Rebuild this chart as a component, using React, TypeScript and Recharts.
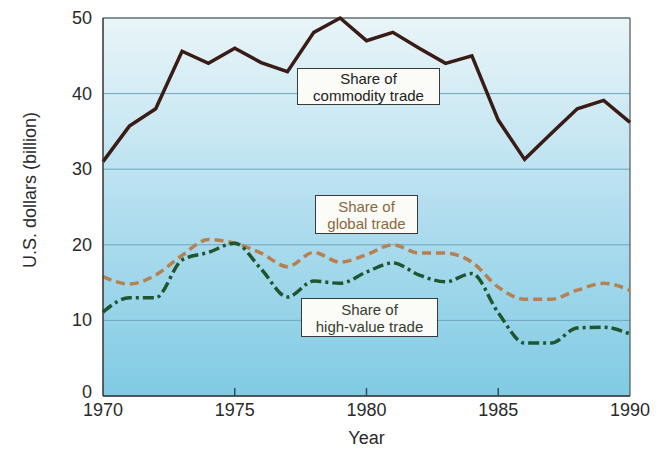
import React from "react";
import {
  LineChart,
  Line,
  XAxis,
  YAxis,
  CartesianGrid,
  ReferenceLine,
  Label,
} from "recharts";

const years = [
  1970, 1971, 1972, 1973, 1974, 1975, 1976, 1977, 1978, 1979, 1980,
  1981, 1982, 1983, 1984, 1985, 1986, 1987, 1988, 1989, 1990,
];
const commodity = [
  31, 35.7, 38, 45.6, 44, 46, 44.1, 42.9, 48.1, 50, 47,
  48.1, 46, 44, 45, 36.5, 31.3, 34.7, 38, 39.1, 36.2,
];
const global = [
  15.8, 14.8, 16, 18.6, 20.7, 20.2, 18.9, 17.1, 19, 17.7, 18.7,
  20, 18.9, 18.9, 17.7, 14.4, 12.8, 12.8, 14, 14.9, 14,
];
const highValue = [
  11.1, 13, 13, 18, 19, 20.2, 16.8, 13.1, 15.2, 14.9, 16.4,
  17.6, 16, 15.1, 16.2, 11, 7, 7, 9, 9.1, 8.2,
];
const xTicks = [1970, 1975, 1980, 1985, 1990];
const yTicks = [0, 10, 20, 30, 40, 50];

const data = years.map((year, i) => ({
  year,
  commodity: commodity[i],
  global: global[i],
  highValue: highValue[i],
}));

const font = "'Liberation Sans', Arial, sans-serif";

const XTick = (props: any) => {
  const { x, y, payload } = props;
  const edge = payload.value === 1970 || payload.value === 1990;
  return (
    <g>
      {!edge && <line x1={x} y1={y} x2={x} y2={y - 8} stroke="#2f4f5f" strokeWidth={1.5} />}
      <text x={x} y={y + 20} textAnchor="middle" fontSize={18} fill="#2a2a2a" fontFamily={font}>
        {payload.value}
      </text>
    </g>
  );
};

const YTick = (props: any) => {
  const { x, y, payload } = props;
  const dy = payload.value === 0 ? 2 : 6;
  return (
    <text x={x} y={y + dy} textAnchor="end" fontSize={18} fill="#2a2a2a" fontFamily={font}>
      {payload.value}
    </text>
  );
};

const YLabel = (props: any) => {
  const { viewBox } = props;
  const cx = 30;
  const cy = viewBox.y + viewBox.height / 2 - 17;
  return (
    <text
      x={cx}
      y={cy}
      transform={`rotate(-90, ${cx}, ${cy})`}
      textAnchor="middle"
      dominantBaseline="central"
      fontSize={18}
      fill="#2a2a2a"
      fontFamily={font}
    >
      U.S. dollars (billion)
    </text>
  );
};

const boxStyle = (left: number, top: number, w: number, h: number, color: string): React.CSSProperties => ({
  position: "absolute",
  left,
  top,
  width: w,
  height: h,
  boxSizing: "border-box",
  background: "#fbfbf7",
  border: "1.5px solid #3a3a3a",
  color,
  fontFamily: font,
  fontSize: 15,
  lineHeight: "17px",
  textAlign: "center",
  display: "flex",
  flexDirection: "column",
  justifyContent: "center",
});

const App: React.FC = () => {
  return (
    <div style={{ position: "absolute", left: 0, top: 0, width: 665, height: 450, background: "#fff" }}>
      <LineChart
        width={665}
        height={450}
        data={data}
        margin={{ top: 18, right: 35, left: 0, bottom: 4 }}
      >
        <defs>
          <linearGradient id="bg" x1="0" y1="0" x2="0" y2="1">
            <stop offset="0%" stopColor="#e9f5f8" />
            <stop offset="50%" stopColor="#b3deef" />
            <stop offset="100%" stopColor="#80cbe3" />
          </linearGradient>
        </defs>
        <CartesianGrid
          vertical={false}
          fill="url(#bg)"
          stroke="#6ea6bd"
          strokeWidth={1}
        />
        <XAxis
          dataKey="year"
          type="number"
          domain={[1970, 1990]}
          ticks={xTicks}
          height={50}
          tickLine={false}
          tickSize={0}
          tickMargin={0}
          axisLine={{ stroke: "#333", strokeWidth: 1.5 }}
          tick={<XTick />}
          interval={0}
        >
          <Label
            value="Year"
            position="insideBottom"
            offset={2}
            style={{ fontSize: 18, fill: "#2a2a2a", fontFamily: font }}
          />
        </XAxis>
        <YAxis
          domain={[0, 50]}
          ticks={yTicks}
          width={103}
          tickLine={false}
          tickSize={0}
          tickMargin={11}
          axisLine={{ stroke: "#333", strokeWidth: 1.5 }}
          tick={<YTick />}
          interval={0}
        >
          <Label content={<YLabel />} />
        </YAxis>
        <ReferenceLine y={50} stroke="#555" strokeWidth={1.2} />
        <ReferenceLine x={1990} stroke="#555" strokeWidth={1.2} />
        <Line
          dataKey="global"
          stroke="#b9804f"
          strokeWidth={3.5}
          strokeDasharray="9 5"
          dot={false}
          type="monotone"
          isAnimationActive={false}
        />
        <Line
          dataKey="highValue"
          stroke="#1f5530"
          strokeWidth={3.5}
          strokeDasharray="11 4 3 4"
          dot={false}
          type="monotone"
          isAnimationActive={false}
        />
        <Line
          dataKey="commodity"
          stroke="#3a1c16"
          strokeWidth={3.5}
          dot={false}
          type="linear"
          isAnimationActive={false}
        />
      </LineChart>
      <div style={boxStyle(297, 68, 143, 37, "#222")}>
        <span>Share of</span>
        <span>commodity trade</span>
      </div>
      <div style={boxStyle(315, 195, 103, 39, "#8a6840")}>
        <span>Share of</span>
        <span>global trade</span>
      </div>
      <div style={boxStyle(301, 298, 137, 39, "#33402f")}>
        <span>Share of</span>
        <span>high-value trade</span>
      </div>
    </div>
  );
};

export default App;
